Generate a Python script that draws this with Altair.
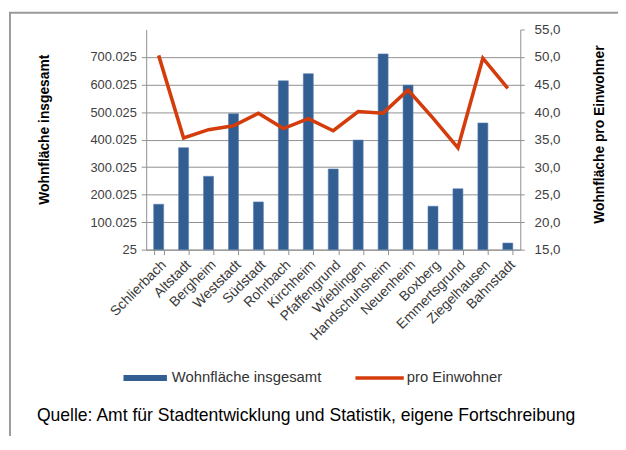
import altair as alt
import pandas as pd

districts = ["Schlierbach", "Altstadt", "Bergheim", "Weststadt", "Südstadt", "Rohrbach",
             "Kirchheim", "Pfaffengrund", "Wieblingen", "Handschuhsheim", "Neuenheim",
             "Boxberg", "Emmertsgrund", "Ziegelhausen", "Bahnstadt"]
area_total = [165000, 370600, 266500, 494000, 173300, 613500, 639600, 293100, 398200,
              711400, 598000, 157800, 221300, 460300, 24000]
area_per_capita = [50.3, 35.3, 36.8, 37.5, 39.8, 37.0, 38.8, 36.6, 40.1, 39.8, 44.0,
                   38.9, 33.5, 49.8, 44.3]
left_ticks = [25, 100025, 200025, 300025, 400025, 500025, 600025, 700025]
right_ticks = [15, 20, 25, 30, 35, 40, 45, 50, 55]
series_names = ["Wohnfläche insgesamt", "pro Einwohner"]
source_note = "Quelle: Amt für Stadtentwicklung und Statistik, eigene Fortschreibung"

FONT = "Liberation Sans"
BLUE = "#335e92"
RED = "#d43c0c"
GRID = "#8f8f8f"

df = pd.DataFrame({"Stadtteil": districts, "gesamt": area_total, "pro_ew": area_per_capita})
one = pd.DataFrame({"k": [0]})

x_enc = alt.X(
    "Stadtteil:N", sort=districts, title=None,
    scale=alt.Scale(paddingInner=0.6, paddingOuter=0.3),
    axis=alt.Axis(labelAngle=-45, labelAlign="right", labelBaseline="top",
                  tickBand="extent", tickSize=5, tickColor=GRID, domainColor=GRID,
                  labelFont=FONT, labelFontSize=14, labelColor="#3a3a3a",
                  labelPadding=3),
)

bars = alt.Chart(df).mark_bar(color=BLUE, stroke="#5a7fb0", strokeWidth=0.6).encode(
    x=x_enc,
    y=alt.Y("gesamt:Q",
            scale=alt.Scale(domain=[25, 800025], zero=False, nice=False),
            axis=alt.Axis(values=left_ticks,
                          labelExpr="replace(format(datum.value, ',d'), ',', '.')",
                          grid=True, gridColor=GRID, gridWidth=1,
                          domainColor=GRID, tickColor=GRID, tickSize=5,
                          labelFont=FONT, labelFontSize=13, labelColor="#404040",
                          labelPadding=5,
                          title=series_names[0], titleFont=FONT, titleFontSize=14,
                          titleFontWeight="bold", titleColor="black", titleAngle=-90,
                          titleX=-103, titleY=101, titleAlign="center",
                          titleBaseline="middle")),
    y2=alt.datum(25),
)

line = alt.Chart(df).mark_line(color=RED, strokeWidth=3.6, strokeJoin="miter").encode(
    x=alt.X("Stadtteil:N", sort=districts),
    y=alt.Y("pro_ew:Q",
            scale=alt.Scale(domain=[15, 55], zero=False, nice=False),
            axis=alt.Axis(orient="right", values=right_ticks,
                          labelExpr="replace(format(datum.value, '.1f'), '.', ',')",
                          grid=False, domainColor=GRID, tickColor=GRID, tickSize=4,
                          labelFont=FONT, labelFontSize=13.5, labelColor="#404040",
                          labelPadding=10,
                          title="Wohnfläche pro Einwohner", titleFont=FONT,
                          titleFontSize=14, titleFontWeight="bold", titleColor="black",
                          titleAngle=-90, titleX=80, titleY=106, titleAlign="center",
                          titleBaseline="middle")),
)

frame = alt.Chart(one).mark_rect(fill=None, stroke="#9a9a9a", strokeWidth=2).encode(
    x=alt.value(-138), x2=alt.value(1000), y=alt.value(-17), y2=alt.value(1000)
)

leg_bar = alt.Chart(one).mark_rule(color=BLUE, strokeWidth=6).encode(
    x=alt.value(-23), x2=alt.value(21), y=alt.value(353)
)
leg_line = alt.Chart(one).mark_rule(color=RED, strokeWidth=3.5).encode(
    x=alt.value(212), x2=alt.value(261), y=alt.value(353)
)
leg_txt1 = alt.Chart(one).mark_text(text=series_names[0], font=FONT, fontSize=15,
                                     align="left", baseline="middle", color="#333333").encode(
    x=alt.value(26), y=alt.value(352)
)
leg_txt2 = alt.Chart(one).mark_text(text=series_names[1], font=FONT, fontSize=15,
                                     align="left", baseline="middle", color="#333333").encode(
    x=alt.value(264), y=alt.value(352)
)
src = alt.Chart(one).mark_text(text=source_note, font=FONT, fontSize=17.8,
                                align="center", baseline="middle", color="black").encode(
    x=alt.value(162), y=alt.value(392)
)

chart = alt.layer(frame, bars, line, leg_bar, leg_line, leg_txt1, leg_txt2, src).resolve_scale(
    y="independent"
).properties(
    width=379, height=223,
    autosize=alt.AutoSizeParams(type="none"),
    padding={"left": 140, "top": 19, "right": 99, "bottom": 186},
).configure_view(stroke=None)

chart.save("out.html", embed_options={"renderer": "svg", "actions": False})
